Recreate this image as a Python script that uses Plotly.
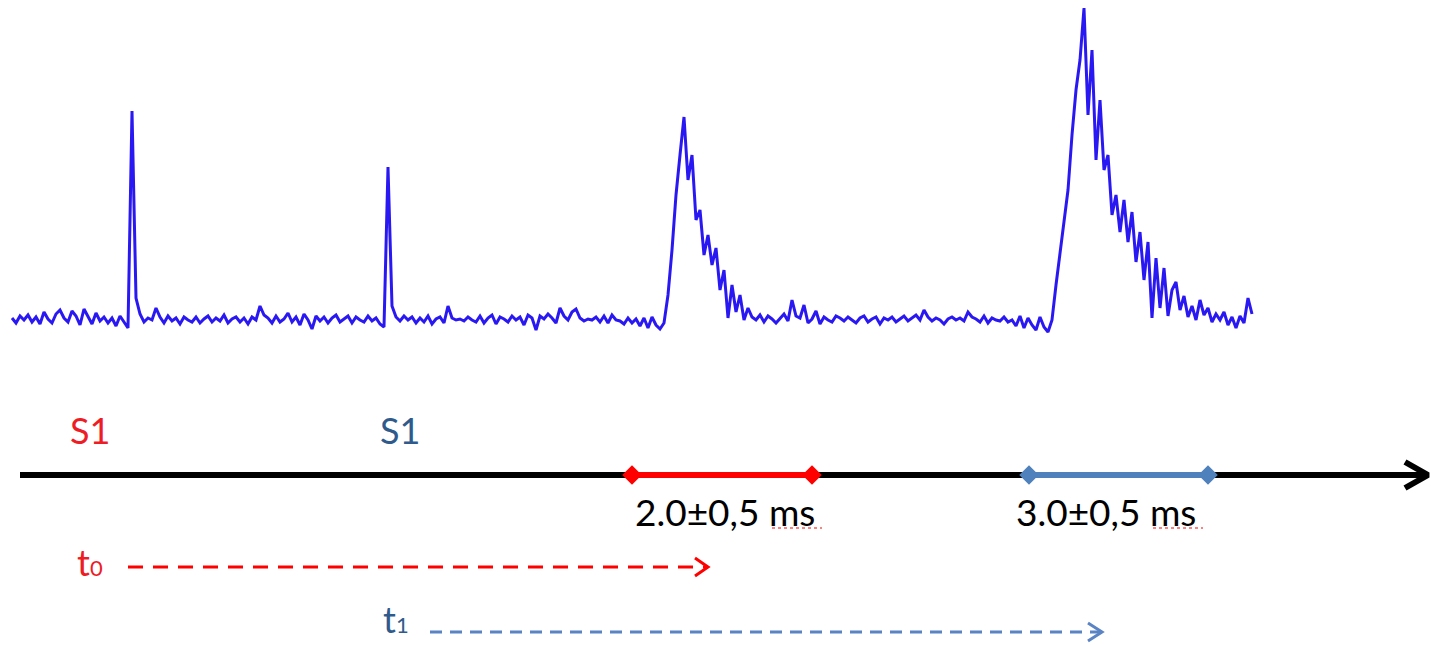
import numpy as np
import plotly.graph_objects as go

# ---- recorded trace: amplitude above baseline, one value per sample ----
pre_stim_1 = [2, -3, 4, 0, 5, -2, 3, -4, 8, 1, -3, 6, 10, 2, -2, 9, 4, -5, 11, 3,
              -4, 7, -1, 3, -3, 2, -6, 4, -2]
stim_1 = [-8, 209, 22, 6]
between_stims = [-2, 2, 0, 12, 3, -3, 4, -1, 2, -4, 3, 0, -2, 3, -3, 1, 4, -2, 2, -1,
                 5, -3, 1, 3, -2, 2, -4, 3, 0, 14, 5, 2, -3, 4, -2, 1, 7, -2, 3, -5,
                 6, 0, -9, 4, -1, 3, -3, 2, 5, -2, 1, 4, -3, 3, 0, -2, 4, -1, 2, -4]
stim_2 = [-7, 153, 14, 3]
pre_response_1 = [-1, 4, 0, 3, -3, 2, -2, 4, -4, 1, 3, -3, 14, 2, 0, 1, -1, 3, 0, -2,
                  4, -3, 2, 5, -4, 3, 1, -2, 4, 0, 3, -5, 5, 2, -10, 4, 1, 6, 2, -3,
                  12, 4, 0, 8, 11, 2, -1, 1, 0, 3, -2, 4, -3, 5, 0, -1, -4, 2, -3, 1,
                  -6, 2, -8, 3, -5]
response_1 = [-9, -3, 25, 70, 125, 165, 203, 140, 165, 100, 110, 65, 85, 55, 72, 30,
              50, 2, 35, 8, 25, 0, 12]
between_responses = [3, 0, 5, -2, 4, 1, -3, 2, 6, -1, 20, 4, 2, 15, -3, 1, 9, -4, 3, 0,
                     -2, 4, 2, -1, 3, 0, -3, 2, 4, -2, 1, 3, -4, 2, 0, 3, -2, 1, 4, -1,
                     2, 5, 0, 10, 3, -1, 2, 0, -4, 1, 3, 0, 2, -1, 8, 3, 1, -2, 4, -3,
                     2, 0, -1, 3, -2, 0, -6, 4, -8, 2, -5, -10, 3, -7]
response_2 = [-12, 0, 35, 65, 100, 130, 185, 230, 260, 312, 205, 270, 160, 220, 150,
              165, 105, 125, 88, 120, 78, 108, 58, 88, 40, 78, 2, 62, 12, 52, 4, 30,
              38, 10, 24, 3, 14, 0, 20]
tail = [5, 12, -2, 6, 0, 8, -5, 3, -8, 4, -3, 22, 6]

signal = (pre_stim_1 + stim_1 + between_stims + stim_2 + pre_response_1
          + response_1 + between_responses + response_2 + tail)
samples = np.arange(len(signal))

# ---- timing diagram (sample units on x, row units on y2) ----
axis_span = (2, 354)
window_first = (155, 200)
window_second = (254.25, 299)
t0_span = (29, 174)
t1_span = (104.5, 272.5)

AXIS_ROW, T0_ROW, T1_ROW = 475, 567, 632
LABEL_ROW, WINDOW_LABEL_ROW = 430, 511

RED = "#ff0000"
LABEL_RED = "#ee1c25"
DARK_BLUE = "#2f5b8c"
MID_BLUE = "#4f81bd"
DASH_BLUE = "#5b84c4"
TRACE_BLUE = "#2a18f2"
FONT = "Lato"


def chevron(x_tip, y, length, half):
    return [x_tip - length, x_tip, x_tip - length], [y - half, y, y + half]


fig = go.Figure()

fig.add_trace(go.Scatter(x=samples, y=signal, mode="lines",
                         line=dict(color=TRACE_BLUE, width=3),
                         hoverinfo="skip"))

# main time axis with arrowhead
fig.add_trace(go.Scatter(x=list(axis_span), y=[AXIS_ROW, AXIS_ROW], yaxis="y2",
                         mode="lines", line=dict(color="black", width=6)))
cx, cy = chevron(axis_span[1], AXIS_ROW, 5.75, 13)
fig.add_trace(go.Scatter(x=cx, y=cy, yaxis="y2", mode="lines",
                         line=dict(color="black", width=6)))

# response windows
for span, color in ((window_first, RED), (window_second, MID_BLUE)):
    fig.add_trace(go.Scatter(x=list(span), y=[AXIS_ROW, AXIS_ROW], yaxis="y2",
                             mode="lines+markers",
                             line=dict(color=color, width=6),
                             marker=dict(symbol="diamond", size=15, color=color)))

# latency arrows
for span, row, color, dash, head in ((t0_span, T0_ROW, RED, "15px,10px", 3.25),
                                     (t1_span, T1_ROW, DASH_BLUE, "12px,8px", 3.5)):
    fig.add_trace(go.Scatter(x=list(span), y=[row, row], yaxis="y2", mode="lines",
                             line=dict(color=color, width=3, dash=dash)))
    hx, hy = chevron(span[1], row, head, 9)
    fig.add_trace(go.Scatter(x=hx, y=hy, yaxis="y2", mode="lines",
                             line=dict(color=color, width=3)))

# spell-check squiggles under "ms"
for x0, x1 in ((190, 202.5), (285.25, 297.75)):
    fig.add_trace(go.Scatter(x=[x0, x1], y=[528, 528], yaxis="y2", mode="lines",
                             line=dict(color=RED, width=1.2, dash="dot")))

labels = [
    (19.5, LABEL_ROW, "S1", LABEL_RED, 36),
    (97, LABEL_ROW, "S1", DARK_BLUE, 36),
    (178.25, WINDOW_LABEL_ROW, "2.0±0,5 ms", "black", 37),
    (273.5, WINDOW_LABEL_ROW, "3.0±0,5 ms", "black", 37),
    (19.4, 562, 't<span style="font-size:22px">0</span>', LABEL_RED, 36),
    (96, 619, 't<span style="font-size:22px">1</span>', DARK_BLUE, 36),
]
for x, y, text, color, size in labels:
    fig.add_annotation(x=x, y=y, xref="x", yref="y2", text=text, showarrow=False,
                       font=dict(family=FONT, size=size, color=color),
                       xanchor="center", yanchor="middle")

fig.update_layout(
    width=1431, height=645,
    margin=dict(l=0, r=0, t=0, b=0),
    paper_bgcolor="white", plot_bgcolor="white",
    showlegend=False,
    xaxis=dict(range=[-3, 354.75], visible=False, fixedrange=True),
    yaxis=dict(range=[-325, 320], visible=False, fixedrange=True),
    yaxis2=dict(range=[645, 0], overlaying="y", visible=False, fixedrange=True),
)

fig.write_html("out.html")
